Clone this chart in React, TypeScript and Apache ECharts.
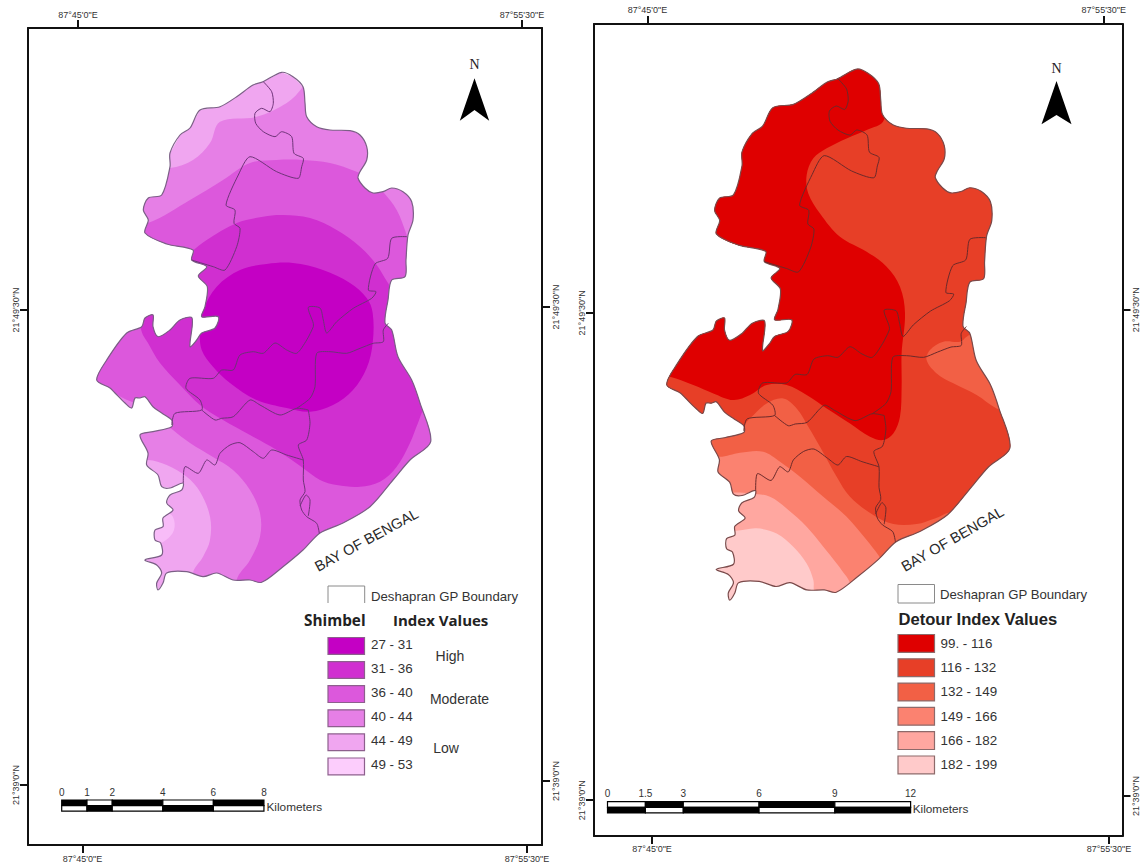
import React, { useEffect, useRef } from "react";
import * as echarts from "echarts";

type Pt = number[];

// ---- map geometry, in shared map units ----
const districtOutline: Pt[] = [
  [281.7,72.3],[293,76.7],[303,86.7],[305,103],[306.7,116.7],[316.7,126.7],[330,130],[350,130.7],[360,135],[366.7,146.7],[366.7,160],[360,171.7],[358,178],[365,188],[373,193],[383,191.7],[391.7,188],[403,191.7],[411.7,201.7],[413,220],[408,235],[406,260],[405,276.7],[391.7,280],[388,300],[385,323],[391.7,330],[398,356.7],[411.7,380],[420,403],[430.7,441.7],[410,460],[393,480],[370,506.7],[343,523],[320,533],[303,550],[283,566.7],[261.7,582.3],[250,580],[233,580],[216.7,573],[203,576.7],[186.7,571.7],[166.7,573],[163,583],[158,590],[156.7,583],[161.7,573],[156.7,565],[145,560],[161.7,555],[160.7,543],[155,540],[155,530],[163,526.7],[163,518],[173,510],[166.7,503],[170,495],[181.7,490],[183,483],[170,488],[161.7,486.7],[158,475],[146.7,465],[148,453],[140,435],[153,431.7],[171.7,426.7],[171.7,420],[161.7,413],[153,406.7],[145,396.7],[140,398],[135,398],[131.7,408],[125,403],[115,393],[110,388],[96.7,380],[106.7,360],[126.7,333],[141.7,326.7],[145,318],[153,315],[153,326.7],[158,336.7],[170,330],[180,320],[192,318],[190,346.7],[196.7,340],[201.7,333],[215,328],[218.3,316.7],[201.7,316.7],[205,306.7],[207.3,286.7],[198.3,276],[206.7,266.7],[191.7,260],[193,250],[166.7,244],[145,233],[148.3,220],[143.3,210],[148.3,198],[161.7,195],[170,166.7],[170,153],[180,135],[190,128],[200,110],[220,106.7],[236.7,96.7],[253,85],[263,81.7],
];

const gpBoundaries: Pt[][] = [
  [[263.3,81.7],[271.7,91.7],[273.3,103.3],[270,111.7],[261.7,108.3],[255,113.3],[255.7,123.3],[263.3,131.7],[275,136.7],[281.7,131.7],[291.7,136.7],[294,153.3],[303.3,158.3],[301.7,166.7],[298.3,178.3],[276.7,171.7],[250,156.7],[238.3,175],[226,205],[235,210],[234,223.3],[240,228.3],[236.7,246.7],[225,270],[213.3,266.7],[191.7,260]],
  [[407,236.7],[391.7,238.3],[387.7,258.3],[375,264],[368.3,290],[376,291.7],[371.7,298.3],[353.3,308.3],[336.7,321.7],[326.7,333],[323.3,320],[320,308],[308.3,307.3],[313.3,323.3],[313.3,326.7],[306.7,340],[296.7,353.3],[286.7,350],[275,343],[263.3,353.3],[253.3,351.7],[240,355],[233.3,370],[221.7,370],[213.3,378.3],[190,378.3],[186,388.3],[200,400],[201.7,410],[175,413.3],[171.7,425]],
  [[201.7,410],[215,420],[221.7,418.3],[233.3,416.7],[250,400],[260,405],[280,415],[296.7,408.3],[308.3,410]],
  [[308.3,410],[310,423.3],[306.7,440],[298.3,445],[303.3,460],[303.3,480],[305,491.7],[300,500],[301.7,510],[306.7,516.7],[316.7,523.3],[319.3,533.3]],
  [[300,506],[306,495],[310,500],[308.3,516]],
  [[296.7,408.3],[310,398.3],[315,386.7],[316.7,353.3],[330,351.7],[346.7,353.3],[360,348.3],[373.3,343.3],[383.3,341.7],[383.3,330],[388.3,323.3]],
  [[303.3,460],[286.7,455],[271.7,450],[263.3,458.3],[253.3,451.7],[240,442.7],[230,445],[220,453.3],[215,465],[206.7,460],[198.3,473.3],[185,466.7],[183.3,483]],
];

// Shimbel contours, lightest layer first
const shimbel40to44: Pt[] = [[80,460],[80,175],[170,168],[193,160],[210,143],[220,121.7],[256.7,116.7],[286.7,103],[303,86.7],[320,60],[460,60],[460,620],[193,620],[193,573],[203,556.7],[210,540],[210,516.7],[200,491.7],[186.7,476.7],[166.7,465],[148,460]];
const shimbel36to40: Pt[] = [[80,240],[148,223],[190,200],[223,180],[250,163],[276.7,160],[303,160],[330,163],[356.7,171.7],[370,178],[383,191.7],[396.7,210],[406.7,235],[415,260],[470,300],[470,620],[236,620],[236.7,580],[250,560],[260,536.7],[260,513],[250,490],[233,470],[213,457],[190,443],[173,430],[150,410],[123,398],[105,387],[80,385]];
const shimbel31to36: Pt[] = [[141.7,331.7],[140,310],[185,258],[191.7,251.7],[206.7,240],[236.7,223],[263,216.7],[283,215],[310,218],[336.7,230],[360,246.7],[376.7,265],[388,283],[400,300],[440,350],[440,400],[425,408],[418,423],[410,443],[396.7,466.7],[380,481.7],[360,486.7],[336.7,485],[320,480],[303,468],[276.7,450],[250,435],[223,420],[200,405],[180,385],[160,363],[148,343]];
const shimbel27to31: Pt[] = [[203.3,310],[216.7,286.7],[240,270],[266.7,264],[293,263],[323,270],[350,283],[366.7,298],[372.7,313],[372.7,343],[366.7,368],[353,390],[333,405],[310,411.7],[286.7,408],[256.7,400],[230,383],[213,366.7],[201.7,350],[200,330]];
const shimbel49to53: Pt[] = [[165,512],[173,517],[174,530],[166,540],[155,544],[148,530],[155,516]];

// Detour contours, lightest layer first
const detour166to182: Pt[] = [[60,515],[163.2,522.3],[184.2,520],[203.7,525],[219.9,537.9],[232.9,554.2],[239.4,570.4],[240,580.8],[245,600],[470,600],[470,40],[60,40]];
const detour149to166: Pt[] = [[60,470],[179.4,486],[197.2,489.2],[213.4,500.6],[232.9,518.4],[249.1,537.9],[262.1,554.2],[271.8,567.2],[285,585],[470,585],[470,40],[60,40]];
const detour132to149: Pt[] = [[60,440],[147,450.2],[168,446.3],[190.7,445.3],[207,455.1],[226.4,469.7],[249.1,489.2],[271.8,508.7],[291.3,531.4],[302.6,546],[320,570],[470,570],[470,40],[60,40]];
const detour116to132: Pt[] = [[60,421],[168,421],[177.8,412.8],[194,398.2],[210.2,393.4],[223.2,403.1],[234.5,421],[245.9,440.5],[262.1,469.7],[275.1,489.2],[297.7,507.1],[317.2,515.8],[339.9,515.8],[357.7,510.3],[375,505],[400,530],[460,500],[460,420],[417.7,403.1],[398.3,390.1],[375.6,378.7],[359.4,369],[349.6,356],[352.9,346.2],[365.9,338.1],[382.1,338.1],[388.6,333.2],[410,320],[460,320],[460,40],[60,40]];
const detour99to116: Pt[] = [[308.1,122],[291.3,131.7],[271.8,139.9],[252.4,149.6],[239.4,159.3],[232.9,175.6],[234.5,193.5],[245.9,213],[265.3,235.7],[291.3,250.3],[310.7,265],[323.7,284.4],[328.6,310.4],[325.3,349.5],[325.3,382],[323.7,411.2],[317.2,427.5],[307.5,434],[294.5,430.7],[275.1,417.7],[252.4,403.1],[232.9,390.1],[213.4,380.4],[194,380.4],[177.8,390.1],[161.5,395],[142.1,388.5],[122.6,380.4],[99.9,372.2],[80,370],[80,50],[320,50]];

// ---- text and scale values ----
const shimbelClasses = ["27 - 31", "31 - 36", "36 - 40", "40 - 44", "44 - 49", "49 - 53"];
const detourClasses = ["99. - 116", "116 - 132", "132 - 149", "149 - 166", "166 - 182", "182 - 199"];
const shimbelColors = ["#c400c4", "#d02fd0", "#dc58dc", "#e67fe6", "#f0a6f0", "#fccdfc"];
const detourColors = ["#df0000", "#e73f27", "#f26045", "#fb8270", "#ffa7a0", "#ffcaca"];
const shimbelLevels = ["High", "Moderate", "Low"];
const scaleKmShimbel = [0, 1, 2, 4, 6, 8];
const scaleKmDetour = [0, 1.5, 3, 6, 9, 12];
const lonTop = [78, 522];
const lonBottom = [82.5, 527];
const lonLabels = ["87°45'0\"E", "87°55'30\"E"];
const latLeft = [310, 785];
const latRight = [307, 781];
const latLabels = ["21°49'30\"N", "21°39'0\"N"];

const SANS = '"Liberation Sans", Arial, sans-serif';
const INK = "#333333";
const EDGE_SMOOTH = 0.3;

const labelFor = (ticks: number[], names: string[]) => (v: number) => {
  const i = ticks.findIndex((t) => Math.abs(t - v) < 0.01);
  return i >= 0 ? names[i] : "";
};

const axisBase = (ticks: number[], names: string[], margin: number, rotate = 0) => ({
  type: "value",
  scale: true,
  splitLine: { show: false },
  axisLine: { show: true, onZero: false, lineStyle: { color: "#111111", width: 2 } },
  axisTick: { show: true, length: 8, customValues: ticks, lineStyle: { color: "#111111", width: 2 } },
  axisLabel: {
    show: true,
    customValues: ticks,
    formatter: labelFor(ticks, names),
    margin,
    rotate,
    fontFamily: SANS,
    fontSize: 9,
    color: INK,
  },
});

function layer(points: Pt[], fill: string, panel: number, smooth: number) {
  return {
    type: "custom",
    coordinateSystem: "cartesian2d",
    xAxisIndex: panel * 2,
    yAxisIndex: panel * 2,
    silent: true,
    clip: false,
    data: points,
    encode: { x: 0, y: 1 },
    renderItem: (params: any, api: any) => {
      if (params.dataIndex !== 0) return null;
      const px = (p: Pt) => api.coord(p);
      return {
        type: "polygon",
        shape: { points: points.map(px), smooth },
        style: { fill },
        clipPath: { type: "polygon", shape: { points: districtOutline.map(px), smooth: EDGE_SMOOTH } },
      };
    },
  };
}

function outlineLayer(stroke: string, lineColor: string, panel: number) {
  return {
    type: "custom",
    coordinateSystem: "cartesian2d",
    xAxisIndex: panel * 2,
    yAxisIndex: panel * 2,
    silent: true,
    clip: false,
    data: districtOutline,
    encode: { x: 0, y: 1 },
    renderItem: (params: any, api: any) => {
      if (params.dataIndex !== 0) return null;
      const px = (p: Pt) => api.coord(p);
      return {
        type: "group",
        children: [
          { type: "polygon", shape: { points: districtOutline.map(px), smooth: EDGE_SMOOTH }, style: { fill: "none", stroke, lineWidth: 1.2 } },
          ...gpBoundaries.map((line) => ({
            type: "polyline",
            shape: { points: line.map(px), smooth: 0.25 },
            style: { fill: "none", stroke: lineColor, lineWidth: 1 },
          })),
        ],
      };
    },
  };
}

const txt = (text: string, x: number, y: number, size: number, extra: any = {}) => ({
  type: "text",
  x,
  y,
  z: 10,
  rotation: extra.rotation || 0,
  silent: true,
  style: {
    text,
    x: 0,
    y: 0,
    fill: extra.fill || INK,
    textAlign: extra.align || "left",
    textVerticalAlign: "middle",
    font: `${extra.weight || "normal"} ${size}px ${extra.family || SANS}`,
  },
});

const box = (x: number, y: number, w: number, h: number, fill: string, stroke = "#7f6f7f", lw = 1) => ({
  type: "rect",
  z: 10,
  silent: true,
  shape: { x, y, width: w, height: h },
  style: { fill, stroke, lineWidth: lw },
});

function scaleBar(kms: number[], x0: number, y0: number, pxPerKm: number, topFirstBlack: boolean, labelY: number, kmX: number, kmY: number) {
  const out: any[] = [];
  const h = 5.6;
  for (let i = 0; i < kms.length - 1; i++) {
    const xa = x0 + kms[i] * pxPerKm;
    const w = (kms[i + 1] - kms[i]) * pxPerKm;
    const topBlack = topFirstBlack ? i % 2 === 0 : i % 2 === 1;
    out.push(box(xa, y0, w, h, topBlack ? "#000000" : "#ffffff", "#000000", 1.2));
    out.push(box(xa, y0 + h, w, h, topBlack ? "#ffffff" : "#000000", "#000000", 1.2));
  }
  kms.forEach((k) => out.push(txt(String(k), x0 + k * pxPerKm, labelY, 10, { align: "center" })));
  out.push(txt("Kilometers", kmX, kmY, 11.8));
  return out;
}

const northArrow = (cx: number, tipY: number, botY: number, notchY: number, halfW: number, nY: number) => [
  txt("N", cx, nY, 14, { align: "center", family: '"Liberation Serif", serif', fill: "#222222" }),
  {
    type: "polygon",
    z: 10,
    silent: true,
    shape: { points: [[cx, tipY], [cx + halfW, botY], [cx, notchY], [cx - halfW, botY]] },
    style: { fill: "#000000" },
  },
];

function buildGraphics() {
  const els: any[] = [];
  // left legend
  els.push({
    type: "polyline", z: 10, silent: true,
    shape: { points: [[328, 603], [328, 586], [364.7, 586], [364.7, 603]] },
    style: { fill: "none", stroke: "#8a8a8a", lineWidth: 1 },
  });
  els.push(txt("Deshapran GP Boundary", 371, 596, 13.2));
  els.push(txt("Shimbel", 304, 620, 15.3, { weight: "bold", family: '"Open Sans", sans-serif', fill: "#222222" }));
  els.push(txt("Index Values", 393, 620, 15, { weight: "bold", family: '"Open Sans", sans-serif', fill: "#222222" }));
  shimbelClasses.forEach((c, i) => {
    const y = 637.5 + i * 24.1;
    els.push(box(328, y, 36.5, 16.8, shimbelColors[i], "#8d5f8d", 1.2));
    els.push(txt(c, 371, y + 6.8, 13.4));
  });
  els.push(txt(shimbelLevels[0], 450, 656, 14, { align: "center" }));
  els.push(txt(shimbelLevels[1], 459.5, 699, 14, { align: "center" }));
  els.push(txt(shimbelLevels[2], 446, 748, 14, { align: "center" }));
  // right legend
  els.push(box(898, 584.5, 36.5, 18.5, "#ffffff", "#8a8a8a", 1));
  els.push(txt("Deshapran GP Boundary", 940, 594, 13.2));
  els.push(txt("Detour Index Values", 898.5, 619, 16.6, { weight: "bold", family: SANS, fill: "#222222" }));
  detourColors.forEach((c, i) => {
    const y = 634.5 + i * 24.3;
    els.push(box(898, y, 36.5, 17.8, c, "#8d6a6a", 1.2));
    els.push(txt(detourClasses[i], 940.5, y + 8.8, 13.4));
  });
  // sea labels
  els.push(txt("BAY OF BENGAL", 366.5, 540, 14.6, { align: "center", rotation: 0.5, fill: "#2a2a2a" }));
  els.push(txt("BAY OF BENGAL", 952.5, 539, 14.6, { align: "center", rotation: 0.52, fill: "#2a2a2a" }));
  // scale bars
  els.push(...scaleBar(scaleKmShimbel, 61.7, 800, 25.28, true, 792.7, 266.5, 807));
  els.push(...scaleBar(scaleKmDetour, 607.5, 801.7, 25.26, false, 793.3, 912.7, 809));
  // north arrows
  els.push(...northArrow(474.5, 78.3, 120.7, 110, 14.7, 64));
  els.push(...northArrow(1056.5, 81, 124.3, 115, 15, 68));
  return els;
}

const shimbelLayers: [Pt[], number][] = [
  [shimbel40to44, 3], [shimbel36to40, 2], [shimbel31to36, 1], [shimbel27to31, 0],
];
const detourLayers: [Pt[], number][] = [
  [detour166to182, 4], [detour149to166, 3], [detour132to149, 2], [detour116to132, 1], [detour99to116, 0],
];

export default function App() {
  const ref = useRef<HTMLDivElement>(null);
  useEffect(() => {
    document.body.style.margin = "0";
    const chart = echarts.init(ref.current!, null, { renderer: "svg" });
    chart.setOption({
      animation: false,
      backgroundColor: "#ffffff",
      grid: [
        { left: 28, right: 601, top: 28, bottom: 21 },
        { left: 594, right: 20.5, top: 24, bottom: 30 },
      ],
      xAxis: [
        { ...axisBase(lonTop, lonLabels, 9), gridIndex: 0, position: "top", min: 28, max: 542 },
        { ...axisBase(lonBottom, lonLabels, 9), gridIndex: 0, position: "bottom", min: 28, max: 542 },
        { ...axisBase(lonTop, lonLabels, 10), gridIndex: 1, position: "top", min: 26, max: 540.2 },
        { ...axisBase(lonBottom, lonLabels, 8), gridIndex: 1, position: "bottom", min: 26, max: 540.2 },
      ],
      yAxis: [
        { ...axisBase(latLeft, latLabels, 8, 90), gridIndex: 0, position: "left", inverse: true, min: 28, max: 845 },
        { ...axisBase(latRight, latLabels, 9, 90), gridIndex: 0, position: "right", inverse: true, min: 28, max: 845 },
        { ...axisBase(latLeft, latLabels, 8, 90), gridIndex: 1, position: "left", inverse: true, min: 28.4, max: 819.9 },
        { ...axisBase(latRight, latLabels, 9, 90), gridIndex: 1, position: "right", inverse: true, min: 28.4, max: 819.9 },
      ],
      series: [
        layer(districtOutline, shimbelColors[4], 0, 0),
        ...shimbelLayers.map(([pts, c]) => layer(pts, shimbelColors[c], 0, 0.35)),
        layer(shimbel49to53, "#f8bcf8", 0, 0.35),
        outlineLayer("#7b5f86", "#6e3478", 0),
        layer(districtOutline, detourColors[5], 1, 0),
        ...detourLayers.map(([pts, c]) => layer(pts, detourColors[c], 1, 0.35)),
        outlineLayer("#7a4a4a", "#6b2a2a", 1),
      ],
      graphic: { elements: buildGraphics() },
    });
    return () => chart.dispose();
  }, []);
  return <div ref={ref} style={{ width: 1143, height: 866 }} />;
}
